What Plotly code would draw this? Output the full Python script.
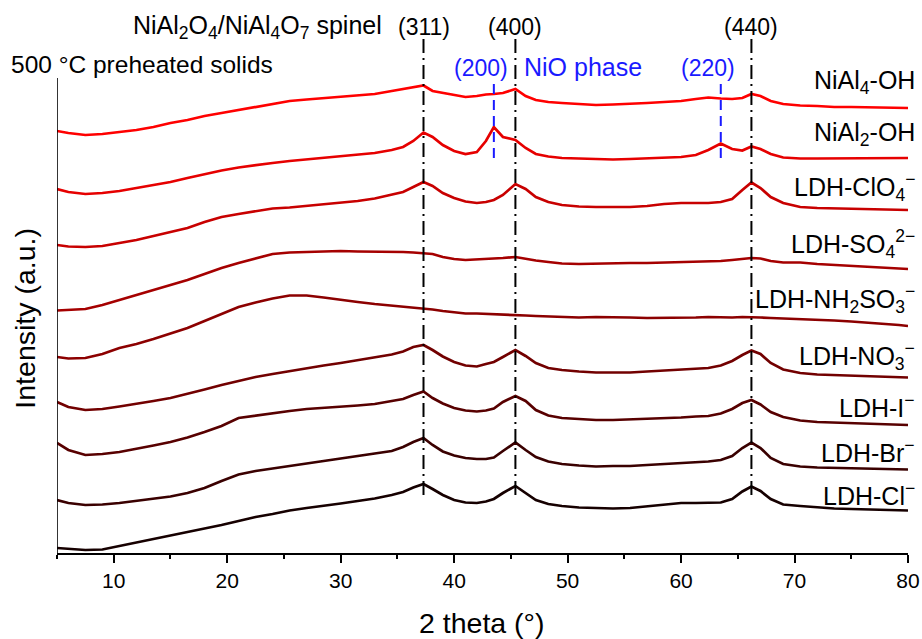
import plotly.graph_objects as go

# 2-theta sampling positions (degrees)
TWO_THETA = [5, 6, 7.5, 9, 10.5, 12, 13.5, 15, 16.5, 18, 19.5, 21, 22.5, 24, 25.5,
             27, 28.5, 30, 31.5, 33, 34.5, 35.5, 36.4, 37.3, 38.1, 39, 40, 41, 42,
             42.8, 43.5, 44.3, 45.4, 46.3, 47.2, 48.3, 49.5, 51, 52.5, 54, 55.5, 57,
             58.5, 60, 61.3, 62.4, 63.5, 64.5, 65.4, 66.2, 67, 67.9, 69, 70.5, 72,
             73.5, 75, 76.5, 78, 79.2, 80]

# stacked diffractograms (intensity, a.u., vertically offset)
NIAL4_OH = [422, 420, 418, 419, 421, 423, 426, 430, 433, 437, 440, 443, 446, 449, 452,
            453.5, 455, 456, 457.5, 459, 462, 464, 466, 467.5, 462, 460, 458, 456, 457,
            458.5, 459, 460, 464, 457, 453, 451, 450, 449, 448, 448.5, 449, 450,
            451, 452, 454, 455.5, 454.5, 454, 455, 459, 457, 452, 449, 447.5, 447,
            446, 446, 445.5, 445, 445, 445]
NIAL2_OH = [364, 361, 359, 360, 362, 365, 368, 371, 375, 379, 382.5, 385.5, 388, 390, 392,
            393.5, 395, 396.5, 398, 400, 403, 406, 412, 420.5, 416, 408, 402, 399, 401,
            412, 426, 416, 413, 405, 399, 396.5, 395, 394.5, 394, 393.5, 394, 394.5,
            395, 396, 398, 403, 409.5, 404, 402.5, 406.5, 404, 399, 395.5, 394.5, 394.5,
            394.5, 394.5, 394.5, 395, 395, 395]
LDH_CLO4 = [308, 306.5, 306, 307, 310, 313, 317, 321, 325, 331, 336, 339, 341.5, 344.5, 345.5,
            347, 348.5, 350, 352, 354.5, 358, 361, 366, 371, 367, 360, 355, 351.5, 350,
            351, 353, 358, 369, 364, 356, 351, 348, 346.5, 346, 346, 346, 347,
            349, 350, 350, 350, 351, 354, 363, 370.5, 365, 356, 350, 346, 345,
            344.5, 344, 343.5, 343, 343, 343]
LDH_SO4 = [242.5, 243, 244, 248, 253, 258, 263, 268, 273, 279, 285, 290, 294.5, 299, 300.5,
           301, 302, 302, 301.5, 301.5, 301.5, 301, 300.5, 300, 299, 296, 294, 293, 293.5,
           294, 294.5, 295, 296, 294, 292.5, 291, 289.5, 289, 289.5, 290, 290, 290,
           290.5, 291, 291.5, 291.5, 292, 293, 294, 295, 294.5, 292, 290.5, 290.5, 289,
           288, 287, 286, 285, 284, 284]
LDH_NH2SO3 = [196, 194.5, 195, 199, 205, 209, 214, 219.5, 225, 232, 239, 246, 250.5, 254.5, 257.5,
              257.5, 255.5, 253, 251, 249, 247.5, 246, 245, 244, 243.5, 242, 240.5, 239.5, 239.5,
              239, 239, 238.5, 238, 237.5, 237, 236.5, 236, 235.5, 236, 236, 235.5, 235,
              235, 235.5, 235.5, 236, 235.5, 235.5, 236, 236, 235.5, 235, 234.5, 234.5, 233.5,
              232.5, 231.5, 230.5, 229, 228, 227]
LDH_NO3 = [151, 146, 143, 144, 146.5, 149, 152, 155, 159, 163.5, 168, 172, 176, 179, 182,
           185, 187.5, 190, 193, 196, 198.5, 201.5, 206, 208, 203, 196.5, 191, 187.5, 186.5,
           189, 191, 196, 203, 197, 190, 185, 183, 181.5, 180.5, 180.5, 180.5, 181.5,
           182.5, 183, 184, 185, 187.5, 192, 198, 202.5, 199, 190, 183.5, 180, 178.5,
           178, 177, 176.5, 176, 176, 175.5]
LDH_I = [110, 103, 98, 99, 101, 104, 107.5, 111, 115.5, 121, 127, 135, 137.5, 140, 142,
         144, 145, 146.5, 147.5, 149, 152, 154, 158, 161.5, 155, 149.5, 145, 142.5, 141.5,
         142.5, 144.5, 151, 157, 152, 143, 137.5, 135, 134, 133, 133, 133.5, 134,
         135, 135.5, 136.5, 137, 139.5, 144, 150, 153, 148.5, 141, 136, 132.5, 131,
         130.5, 129.5, 129, 128.5, 128, 128]
LDH_BR = [53, 50, 48, 48.5, 50, 52, 54, 56.5, 60, 65, 72, 78.5, 82, 84.5, 87,
          90, 92.5, 94.5, 97, 99.5, 102, 106, 111, 115, 108, 101.5, 97.5, 95, 94,
          94, 95.5, 102, 110.5, 103, 96, 91.5, 89, 87.5, 86.5, 87, 87, 88,
          89, 89.5, 90.5, 91.5, 93, 97, 105, 110.5, 105, 95, 89, 86.5, 85.5,
          85, 84.5, 84.5, 84, 83.5, 83.5]
LDH_CL = [5, 4, 3, 3.5, 7, 10, 13.5, 17.5, 21, 24.5, 28, 32, 36, 39, 42.5,
          45, 47, 49.5, 52, 54.5, 58, 61, 65.5, 69, 64, 58, 53, 50.5, 50,
          51.5, 54, 60, 67, 60, 53, 49, 47, 45.5, 45, 44.5, 45, 46.5,
          48.5, 50, 50, 50, 50.5, 54, 61.5, 66.5, 62, 54, 48.5, 47, 45.5,
          44.5, 44, 43.5, 43, 42.5, 42.5]

SAMPLE_LABELS = ["NiAl<sub>4</sub>-OH", "NiAl<sub>2</sub>-OH",
                 "LDH-ClO<sub>4</sub><sup>\u2212</sup>", "LDH-SO<sub>4</sub><sup>2\u2212</sup>",
                 "LDH-NH<sub>2</sub>SO<sub>3</sub><sup>\u2212</sup>", "LDH-NO<sub>3</sub><sup>\u2212</sup>",
                 "LDH-I<sup>\u2212</sup>", "LDH-Br<sup>\u2212</sup>", "LDH-Cl<sup>\u2212</sup>"]
SERIES = [NIAL4_OH, NIAL2_OH, LDH_CLO4, LDH_SO4, LDH_NH2SO3, LDH_NO3, LDH_I, LDH_BR, LDH_CL]
COLORS = ["#ff0000", "#e60000", "#c80000", "#a50000", "#8c0000",
          "#720000", "#580000", "#3a0000", "#160000"]
# label heights (a.u.) on the right-hand side
LABEL_Y = [471, 419, 366, 309, 254, 197, 147, 102, 59]

# spinel and NiO reflections
SPINEL_POS = [37.3, 45.4, 66.2]
SPINEL_HKL = ["(311)", "(400)", "(440)"]
NIO_POS = [43.5, 63.5]
NIO_HKL = ["(200)", "(220)"]
NIO_LABEL_X = [42.4, 62.4]

FONT = "Liberation Sans, Arial, sans-serif"
BLUE = "#1a1aff"
Y_TOP = 553

fig = go.Figure()
for vals, col in zip(SERIES, COLORS):
    fig.add_trace(go.Scatter(x=TWO_THETA, y=vals, mode="lines",
                             line=dict(color=col, width=2.7),
                             hoverinfo="skip", showlegend=False))

shapes = []
for p in SPINEL_POS:
    shapes.append(dict(type="line", xref="x", yref="y", x0=p, x1=p, y0=58, y1=514,
                       line=dict(color="black", width=2, dash="14px,5px,2px,5px")))
for p in NIO_POS:
    shapes.append(dict(type="line", xref="x", yref="y", x0=p, x1=p, y0=395, y1=473,
                       line=dict(color=BLUE, width=2, dash="10px,6px")))
# left axis spine
shapes.append(dict(type="line", xref="x", yref="y", x0=5, x1=5, y0=0, y1=475,
                   line=dict(color="black", width=1.6)))

ann = []
for lab, yv in zip(SAMPLE_LABELS, LABEL_Y):
    ann.append(dict(text=lab, xref="paper", yref="y", x=1.011, y=yv, xanchor="right",
                    yanchor="middle", showarrow=False, font=dict(size=25, color="black")))
for p, h in zip(SPINEL_POS, SPINEL_HKL):
    ann.append(dict(text=h, xref="x", yref="y", x=p, y=526, xanchor="center", yanchor="middle",
                    showarrow=False, font=dict(size=23, color="black")))
for p, h in zip(NIO_LABEL_X, NIO_HKL):
    ann.append(dict(text=h, xref="x", yref="y", x=p, y=485, xanchor="center", yanchor="middle",
                    showarrow=False, font=dict(size=23, color=BLUE)))
ann.append(dict(text="NiO phase", xref="x", yref="y", x=46.0, y=486, xanchor="left", yanchor="middle",
                showarrow=False, font=dict(size=25, color=BLUE)))
ann.append(dict(text="NiAl<sub>2</sub>O<sub>4</sub>/NiAl<sub>4</sub>O<sub>7</sub> spinel",
                xref="x", yref="y", x=33.8, y=526, xanchor="right", yanchor="middle",
                showarrow=False, font=dict(size=25, color="black")))
ann.append(dict(text="500 \u00b0C preheated solids", xref="paper", yref="y", x=-0.056, y=489,
                xanchor="left", yanchor="middle", showarrow=False, font=dict(size=24.5, color="black")))
ann.append(dict(text="Intensity (a.u.)", xref="paper", yref="y", x=-0.038, y=235, textangle=-90,
                xanchor="center", yanchor="middle", showarrow=False, font=dict(size=28.5, color="black")))
ann.append(dict(text="2 theta (\u00b0)", xref="paper", yref="paper", x=0.499, y=-0.127,
                xanchor="center", yanchor="middle", showarrow=False, font=dict(size=28.5, color="black")))

fig.update_layout(
    width=922, height=639,
    margin=dict(l=57, r=14, t=0, b=86, pad=0),
    paper_bgcolor="white", plot_bgcolor="white",
    font=dict(family=FONT, color="black"),
    shapes=shapes, annotations=ann, showlegend=False,
    xaxis=dict(range=[5, 80], tick0=0, dtick=10, showgrid=False, zeroline=False,
               showline=True, linecolor="black", linewidth=1.6,
               ticks="outside", ticklen=8, tickwidth=1.6, tickcolor="black",
               tickfont=dict(size=21, color="black"),
               minor=dict(dtick=5, ticks="outside", ticklen=4, tickwidth=1.6, tickcolor="black")),
    yaxis=dict(range=[0, Y_TOP], visible=False, showgrid=False, zeroline=False),
)

fig.write_html("out.html")
